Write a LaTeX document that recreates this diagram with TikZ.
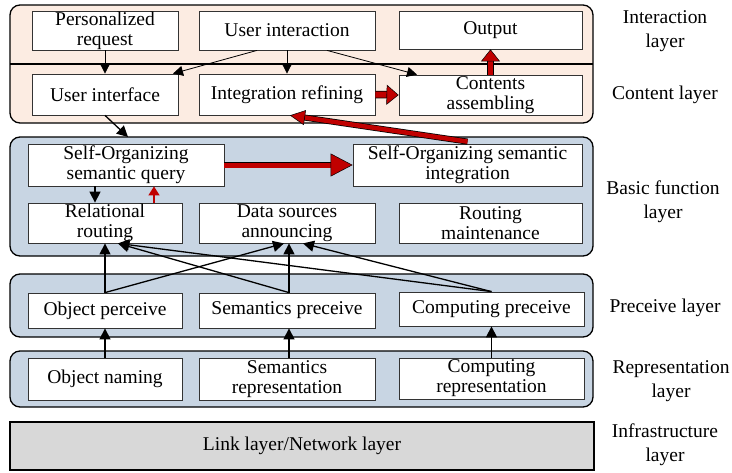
\documentclass[tikz,border=0pt]{standalone}
\usepackage{fontspec}
\setmainfont{Liberation Serif}
\usetikzlibrary{arrows.meta,calc}
\definecolor{peach}{RGB}{252,236,226}
\definecolor{bluep}{RGB}{200,213,227}
\definecolor{grayb}{RGB}{216,216,216}
\definecolor{myred}{RGB}{192,0,0}
\begin{document}
\begin{tikzpicture}[x=1pt,y=-1pt,
  panel/.style={draw=black, line width=1.3pt, rounded corners=10pt},
  box/.style={draw=black!80, line width=0.8pt, fill=white, inner sep=0pt, align=center,
    font=\fontsize{19.5}{20}\selectfont},
  lbl/.style={align=center, inner sep=0pt, font=\fontsize{19.5}{24}\selectfont},
  barr/.style={draw=black, line width=0.8pt, -{Triangle[length=10pt,width=10pt]}},
  barrb/.style={draw=black, line width=1.3pt, -{Triangle[length=11pt,width=11pt]}},
  redarr/.style n args={5}{draw=myred, line width=#1,
    -{Triangle[length=#3,width=#4,fill=myred,color=black,line width=0.5pt]},
    preaction={draw=black, line width=#2, arrows=-, shorten >=#5}},
]
\useasboundingbox (0,0) rectangle (732,472);
% panels
\draw[panel, fill=peach] (10,5) rectangle (593,123);
\draw[line width=1.3pt] (10,64) -- (593,64);
\draw[panel, fill=bluep] (10,137) rectangle (593,256);
\draw[panel, fill=bluep] (10,274) rectangle (593,337);
\draw[panel, fill=bluep] (10,351) rectangle (593,407);
\node[draw=black, line width=1.3pt, fill=grayb, minimum width=584, minimum height=48, inner sep=0pt,
  font=\fontsize{19.5}{20}\selectfont] (link) at (302,446) {Link layer/Network layer};
% interaction row
\node[box, minimum width=146, minimum height=39] (pr) at (105,30.5) {Personalized\\request};
\node[box, minimum width=176, minimum height=39] (ui) at (287,30.5) {User interaction};
\node[box, minimum width=183, minimum height=38] (out) at (490.5,30) {Output};
% content row
\node[box, minimum width=146, minimum height=41] (uif) at (105,94.5) {User interface};
\node[box, minimum width=176, minimum height=41] (ir) at (287,94.5) {Integration refining};
\node[box, minimum width=183, minimum height=40] (ca) at (490.5,95) {Contents\\assembling};
% basic function
\node[box, minimum width=196, minimum height=42] (sq) at (126,165) {Self-Organizing\\semantic query};
\node[box, minimum width=229, minimum height=42] (si) at (467.5,165) {Self-Organizing semantic\\integration};
\node[box, minimum width=154, minimum height=40] (rr) at (105,223) {Relational\\routing};
\node[box, minimum width=176, minimum height=40] (ds) at (287,223) {Data sources\\announcing};
\node[box, minimum width=183, minimum height=40] (rm) at (490.5,223) {Routing\\maintenance};
% preceive
\node[box, minimum width=154, minimum height=35] (op) at (105,310.5) {Object perceive};
\node[box, minimum width=176, minimum height=35] (sp) at (287,310.5) {Semantics preceive};
\node[box, minimum width=185, minimum height=34] (cp) at (491.5,309) {Computing preceive};
% representation
\node[box, minimum width=154, minimum height=42] (on) at (105,379) {Object naming};
\node[box, minimum width=176, minimum height=42] (sr) at (287,379) {Semantics\\representation};
\node[box, minimum width=185, minimum height=41] (cr) at (491.5,378.5) {Computing\\representation};
% labels
\node[lbl] (l1) at (665,31) {Interaction\\layer};
\node[lbl] (l2) at (665,95) {Content layer};
\node[lbl] (l3) at (663,201.5) {Basic function\\layer};
\node[lbl] (l4) at (665,308) {Preceive layer};
\node[lbl] (l5) at (671,381.5) {Representation\\layer};
\node[lbl] (l6) at (665,445) {Infrastructure\\layer};
\coordinate (bpt) at (128,137);
% top arrows
\draw[barr] (pr.south) -- (uif.north);
\draw[barr] ([xshift=-30]ui.south) -- ([xshift=68]uif.north);
\draw[barr] (ui.south) -- (ir.north);
\draw[barr] ([xshift=40]ui.south) -- ([xshift=-73.5]ca.north);
\draw[redarr={5pt}{6.5pt}{12pt}{19pt}{10pt}] (ca.north) -- (out.south);
\draw[redarr={6pt}{7.5pt}{12pt}{20pt}{10pt}] (ir.east) -- (ca.west);
\draw[barrb] (uif.south) -- (bpt);
\draw[redarr={4.5pt}{6pt}{15pt}{15pt}{13pt}] ([yshift=2]si.north) -- ([xshift=3]ir.south);
\draw[redarr={5pt}{6.5pt}{22pt}{23pt}{20pt}] (sq.east) -- (si.west);
% basic function internal
\draw[barrb] ([xshift=-31]sq.south) -- ([xshift=-10]rr.north);
\draw[draw=myred, line width=1.5pt, -{Triangle[length=9pt,width=11pt]}] ([xshift=49]rr.north) -- ([xshift=28]sq.south);
% preceive to basic
\draw[barrb] (op.north) -- (rr.south);
\draw[barrb] (op.north) -- ([xshift=-3]ds.south);
\draw[barrb] ([xshift=2]sp.north) -- ([xshift=2]ds.south);
\draw[barrb] ([xshift=2]sp.north) -- ([xshift=13]rr.south);
\draw[barrb] (cp.north) -- ([xshift=13]rr.south);
\draw[barrb] (cp.north) -- ([xshift=16]ds.south);
% representation to preceive
\draw[barrb] (on.north) -- (op.south);
\draw[barrb] ([xshift=2]sr.north) -- ([xshift=2]sp.south);
\draw[barrb] (cr.north) -- (cp.south);
\end{tikzpicture}
\end{document}
